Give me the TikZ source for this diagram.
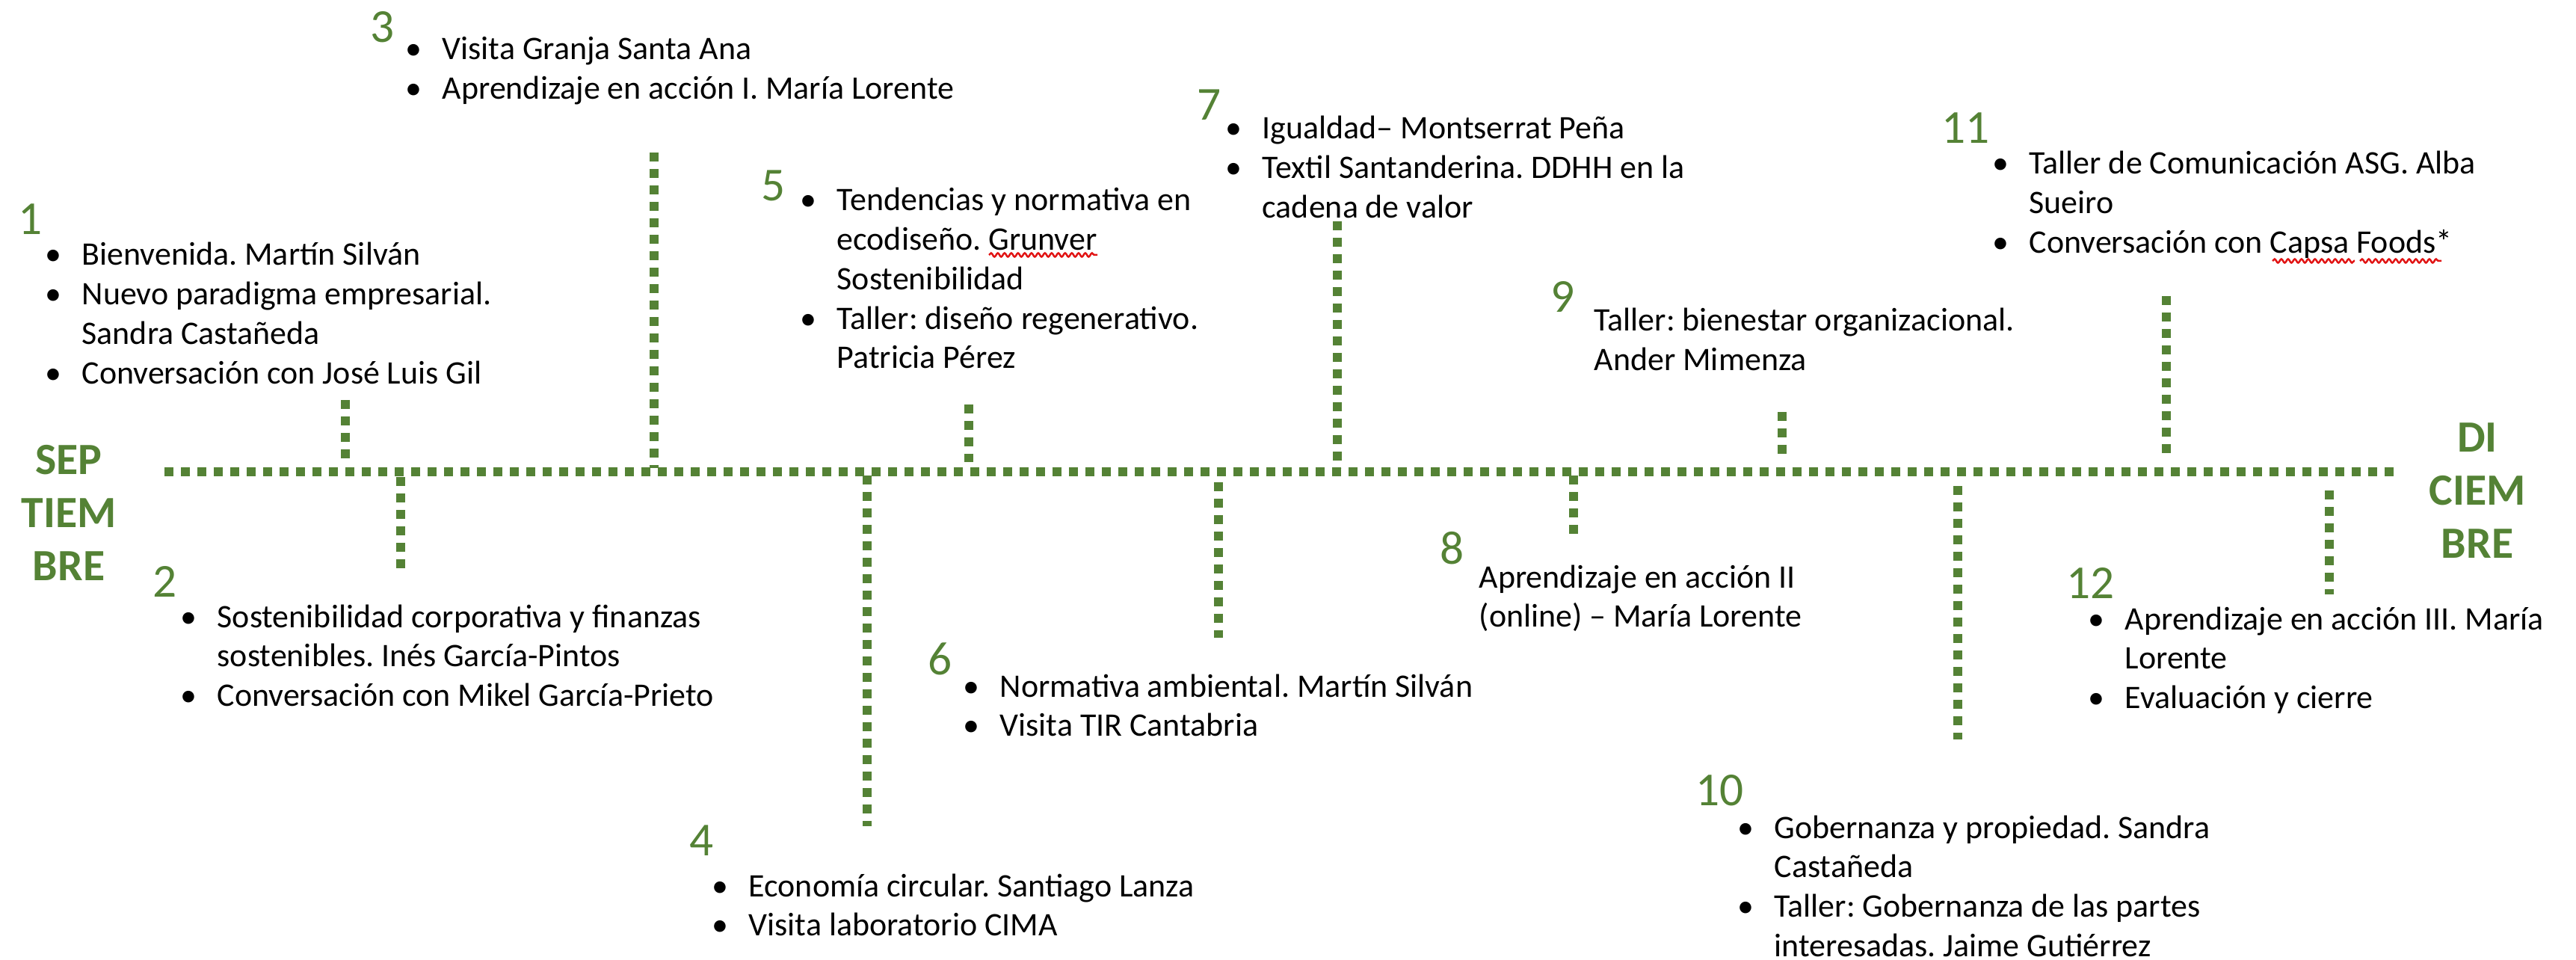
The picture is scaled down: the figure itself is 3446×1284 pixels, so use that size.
\documentclass[tikz,border=0pt]{standalone}
\usepackage{fontspec}
\setmainfont{Carlito}
\usetikzlibrary{decorations.pathmorphing}
\definecolor{tlGreen}{RGB}{84,130,53}
\definecolor{tlRed}{RGB}{225,20,20}
\tikzset{
  tlline/.style={
    draw=tlGreen,
    line width=1.2mm,
    dash pattern=on 1.2mm off 1mm
  },
  tlnum/.style={
    anchor=base west,
    inner sep=0pt,
    text=tlGreen,
    font=\fontsize{18}{21}\selectfont
  },
  tllist/.style={
    anchor=base west,
    inner sep=0pt,
    font=\fontsize{12.5}{15}\selectfont
  },
  tlmonth/.style={
    anchor=base,
    inner sep=0pt,
    text=tlGreen,
    font=\fontsize{17}{20.3}\selectfont\bfseries
  },
  tlspell/.style={
    draw=tlRed,
    line width=0.25mm,
    decorate,
    decoration={snake, amplitude=0.25mm, segment length=0.9mm}
  }
}
\newcommand{\bl}{\makebox[4.9mm][l]{\textbullet}}
\frenchspacing

\begin{document}
\begin{tikzpicture}[x=0.1mm, y=-0.1mm]
  \useasboundingbox (0,0) rectangle (3446,1284);

  % months
  \node[tlmonth] (sep) at (92,634)
    {\begin{tabular}[t]{@{}c@{}}SEP\\TIEM\\BRE\end{tabular}};
  \node[tlmonth] (dic) at (3314,604)
    {\begin{tabular}[t]{@{}c@{}}DI\\CIEM\\BRE\end{tabular}};

  % timeline and stems
  \coordinate (ini) at (220,631);
  \coordinate (fin) at (3210,631);
  \draw[tlline] (ini) -- (fin);
  \foreach \i/\x/\ya/\yb in {1/462/535/614, 2/536/638/768, 3/875/204/626,
      4/1160/636/1105, 5/1296/541/618, 6/1630/645/853, 7/1789/296/626,
      8/2105/636/722, 9/2384/551/608, 10/2619/650/989, 11/2898/396/608,
      12/3116/656/795} {
    \coordinate (a\i) at (\x,\ya);
    \coordinate (b\i) at (\x,\yb);
    \draw[tlline] (a\i) -- (b\i);
  }

  % session numbers
  \foreach \i/\x/\y in {1/24/314, 2/204/798, 3/495/57, 4/922/1144, 5/1018/269,
      6/1241/902, 7/1601/161, 8/1926/754, 9/2074/418, 10/2268/1077,
      11/2597/192, 12/2764/800} {
    \node[tlnum] (n\i) at (\x,\y) {\i};
  }

  % sessions
  \node[tllist] (s1) at (60,355) {\begin{tabular}[t]{@{}l@{}l@{}}
    \bl & Bienvenida. Martín Silván\\
    \bl & Nuevo paradigma empresarial.\\
        & Sandra Castañeda\\
    \bl & Conversación con José Luis Gil\end{tabular}};
  \node[tllist] (s2) at (241,839) {\begin{tabular}[t]{@{}l@{}l@{}}
    \bl & Sostenibilidad corporativa y finanzas\\
        & sostenibles. Inés García-Pintos\\
    \bl & Conversación con Mikel García-Prieto\end{tabular}};
  \node[tllist] (s3) at (542,80) {\begin{tabular}[t]{@{}l@{}l@{}}
    \bl & Visita Granja Santa Ana\\
    \bl & Aprendizaje en acción I. María Lorente\end{tabular}};
  \node[tllist] (s4) at (952,1199) {\begin{tabular}[t]{@{}l@{}l@{}}
    \bl & Economía circular. Santiago Lanza\\
    \bl & Visita laboratorio CIMA\end{tabular}};
  \node[tllist] (s5) at (1070,282) {\begin{tabular}[t]{@{}l@{}l@{}}
    \bl & Tendencias y normativa en\\
        & ecodiseño. Grunver\\
        & Sostenibilidad\\
    \bl & Taller: diseño regenerativo.\\
        & Patricia Pérez\end{tabular}};
  \node[tllist] (s6) at (1288,932) {\begin{tabular}[t]{@{}l@{}l@{}}
    \bl & Normativa ambiental. Martín Silván\\
    \bl & Visita TIR Cantabria\end{tabular}};
  \node[tllist] (s7) at (1639,186) {\begin{tabular}[t]{@{}l@{}l@{}}
    \bl & Igualdad– Montserrat Peña\\
    \bl & Textil Santanderina. DDHH en la\\
        & cadena de valor\end{tabular}};
  \node[tllist] (s8) at (1978,786) {\begin{tabular}[t]{@{}l@{}}
    Aprendizaje en acción II\\
    (online) – María Lorente\end{tabular}};
  \node[tllist] (s9) at (2132,443) {\begin{tabular}[t]{@{}l@{}}
    Taller: bienestar organizacional.\\
    Ander Mimenza\end{tabular}};
  \node[tllist] (s10) at (2324,1121) {\begin{tabular}[t]{@{}l@{}l@{}}
    \bl & Gobernanza y propiedad. Sandra\\
        & Castañeda\\
    \bl & Taller: Gobernanza de las partes\\
        & interesadas. Jaime Gutiérrez\end{tabular}};
  \node[tllist] (s11) at (2665,233) {\begin{tabular}[t]{@{}l@{}l@{}}
    \bl & Taller de Comunicación ASG. Alba\\
        & Sueiro\\
    \bl & Conversación con Capsa Foods*\end{tabular}};
  \node[tllist] (s12) at (2793,842) {\begin{tabular}[t]{@{}l@{}l@{}}
    \bl & Aprendizaje en acción III. María\\
        & Lorente\\
    \bl & Evaluación y cierre\end{tabular}};

  % spell-check marks
  \draw[tlspell] (1323,341) -- (1468,341);
  \draw[tlspell] (3040,349) -- (3150,349);
  \draw[tlspell] (3157,349) -- (3266,349);
\end{tikzpicture}
\end{document}
